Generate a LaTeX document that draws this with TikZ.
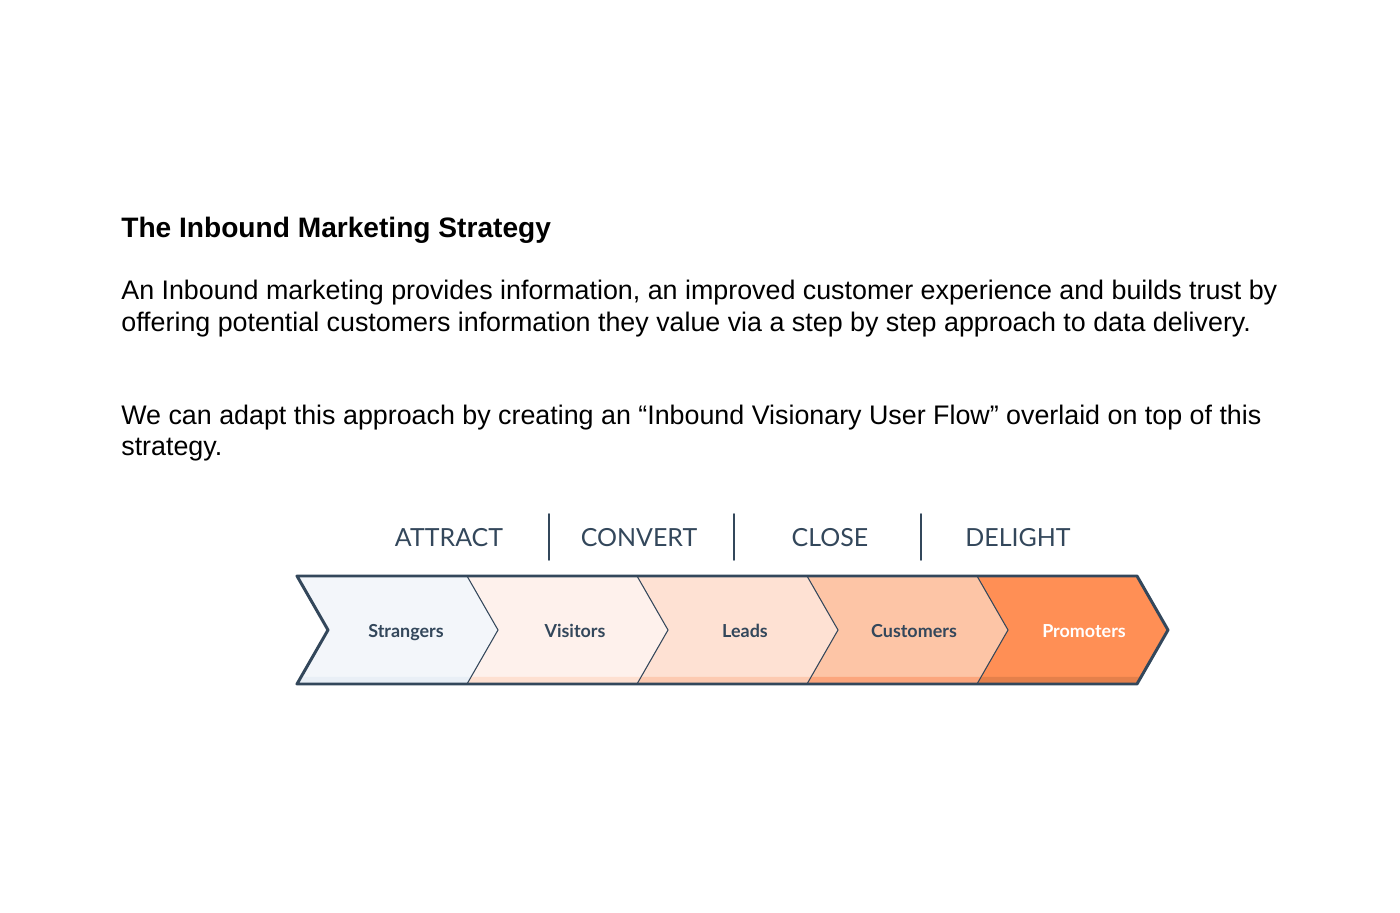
\documentclass[tikz,border=0pt]{standalone}
\usepackage{fontspec}
\usepackage{tkz-euclide}
\setmainfont{Liberation Sans}
\newfontfamily\hubfont{Lato}
\definecolor{slate}{HTML}{33475B}
\definecolor{strangerfill}{HTML}{F3F6FA}
\definecolor{strangerstrip}{HTML}{E9EFF6}
\definecolor{visitorfill}{HTML}{FEF1EC}
\definecolor{visitorstrip}{HTML}{FEE0D1}
\definecolor{leadfill}{HTML}{FEE1D3}
\definecolor{leadstrip}{HTML}{FDCAB1}
\definecolor{customerfill}{HTML}{FDC5A6}
\definecolor{customerstrip}{HTML}{FCA67D}
\definecolor{promoterfill}{HTML}{FF8F55}
\definecolor{promoterstrip}{HTML}{E5804B}
\tikzset{
  bodytext/.style={anchor=base west,inner sep=0pt,font=\fontsize{15.27}{18}\selectfont},
  stagetext/.style={anchor=base,inner sep=0pt,text=slate,font=\hubfont\fontsize{14.2}{17}\selectfont},
  steptext/.style={anchor=base,inner sep=0pt,text=slate,font=\hubfont\bfseries\fontsize{10.2}{12}\selectfont}
}
\begin{document}
\begin{tikzpicture}
            \useasboundingbox (0,0) rectangle (28,18.24);
            \tkzDefPoints{5.94/6.72/T0, 9.34/6.72/T1, 12.74/6.72/T2, 16.14/6.72/T3, 19.54/6.72/T4, 22.74/6.72/T5}
            \tkzDefPoints{6.56/5.64/M0, 9.96/5.64/M1, 13.36/5.64/M2, 16.76/5.64/M3, 20.16/5.64/M4, 23.36/5.64/M5}
            \tkzDefPoints{5.94/4.56/B0, 9.34/4.56/B1, 12.74/4.56/B2, 16.14/4.56/B3, 19.54/4.56/B4, 22.74/4.56/B5}
            \tkzDefPoints{6.02/4.70/S0, 9.42/4.70/S1, 12.82/4.70/S2, 16.22/4.70/S3, 19.62/4.70/S4, 22.82/4.70/S5}
            \tkzFillPolygon[fill=strangerfill](T0,T1,M1,B1,B0,M0)
            \tkzFillPolygon[fill=visitorfill](T1,T2,M2,B2,B1,M1)
            \tkzFillPolygon[fill=leadfill](T2,T3,M3,B3,B2,M2)
            \tkzFillPolygon[fill=customerfill](T3,T4,M4,B4,B3,M3)
            \tkzFillPolygon[fill=promoterfill](T4,T5,M5,B5,B4,M4)
            \tkzFillPolygon[fill=strangerstrip](S0,S1,B1,B0)
            \tkzFillPolygon[fill=visitorstrip](S1,S2,B2,B1)
            \tkzFillPolygon[fill=leadstrip](S2,S3,B3,B2)
            \tkzFillPolygon[fill=customerstrip](S3,S4,B4,B3)
            \tkzFillPolygon[fill=promoterstrip](S4,S5,B5,B4)
            \tkzDrawSegments[slate,line width=0.6pt](T1,M1 M1,B1 T2,M2 M2,B2 T3,M3 M3,B3 T4,M4 M4,B4)
            \tkzDrawPolygon[slate,line width=1.7pt,line join=round](T0,T5,M5,B5,B0,M0)
            \node[steptext] (strangers) at (8.12,5.48) {Strangers};
            \node[steptext] (visitors) at (11.50,5.48) {Visitors};
            \node[steptext] (leads) at (14.90,5.48) {Leads};
            \node[steptext] (customers) at (18.28,5.48) {Customers};
            \node[steptext,text=white] (promoters) at (21.68,5.48) {Promoters};
            \node[stagetext] (attract) at (8.98,7.30) {ATTRACT};
            \node[stagetext] (convert) at (12.78,7.30) {CONVERT};
            \node[stagetext] (close) at (16.60,7.30) {CLOSE};
            \node[stagetext] (delight) at (20.36,7.30) {DELIGHT};
            \tkzDefPoints{10.98/7.96/U1, 10.98/7.04/L1, 14.68/7.96/U2, 14.68/7.04/L2, 18.42/7.96/U3, 18.42/7.04/L3}
            \tkzDrawSegments[slate,line width=1.1pt](U1,L1 U2,L2 U3,L3)
            \node[bodytext,font=\bfseries\fontsize{16}{19}\selectfont] (title) at (2.42,13.48) {The Inbound Marketing Strategy};
            \node[bodytext] (introa) at (2.42,12.24) {An Inbound marketing provides information, an improved customer experience and builds trust by};
            \node[bodytext] (introb) at (2.42,11.60) {offering potential customers information they value via a step by step approach to data delivery.};
            \node[bodytext] (adapta) at (2.42,9.74) {We can adapt this approach by creating an “Inbound Visionary User Flow” overlaid on top of this};
            \node[bodytext] (adaptb) at (2.42,9.12) {strategy.};
        \end{tikzpicture}
\end{document}
